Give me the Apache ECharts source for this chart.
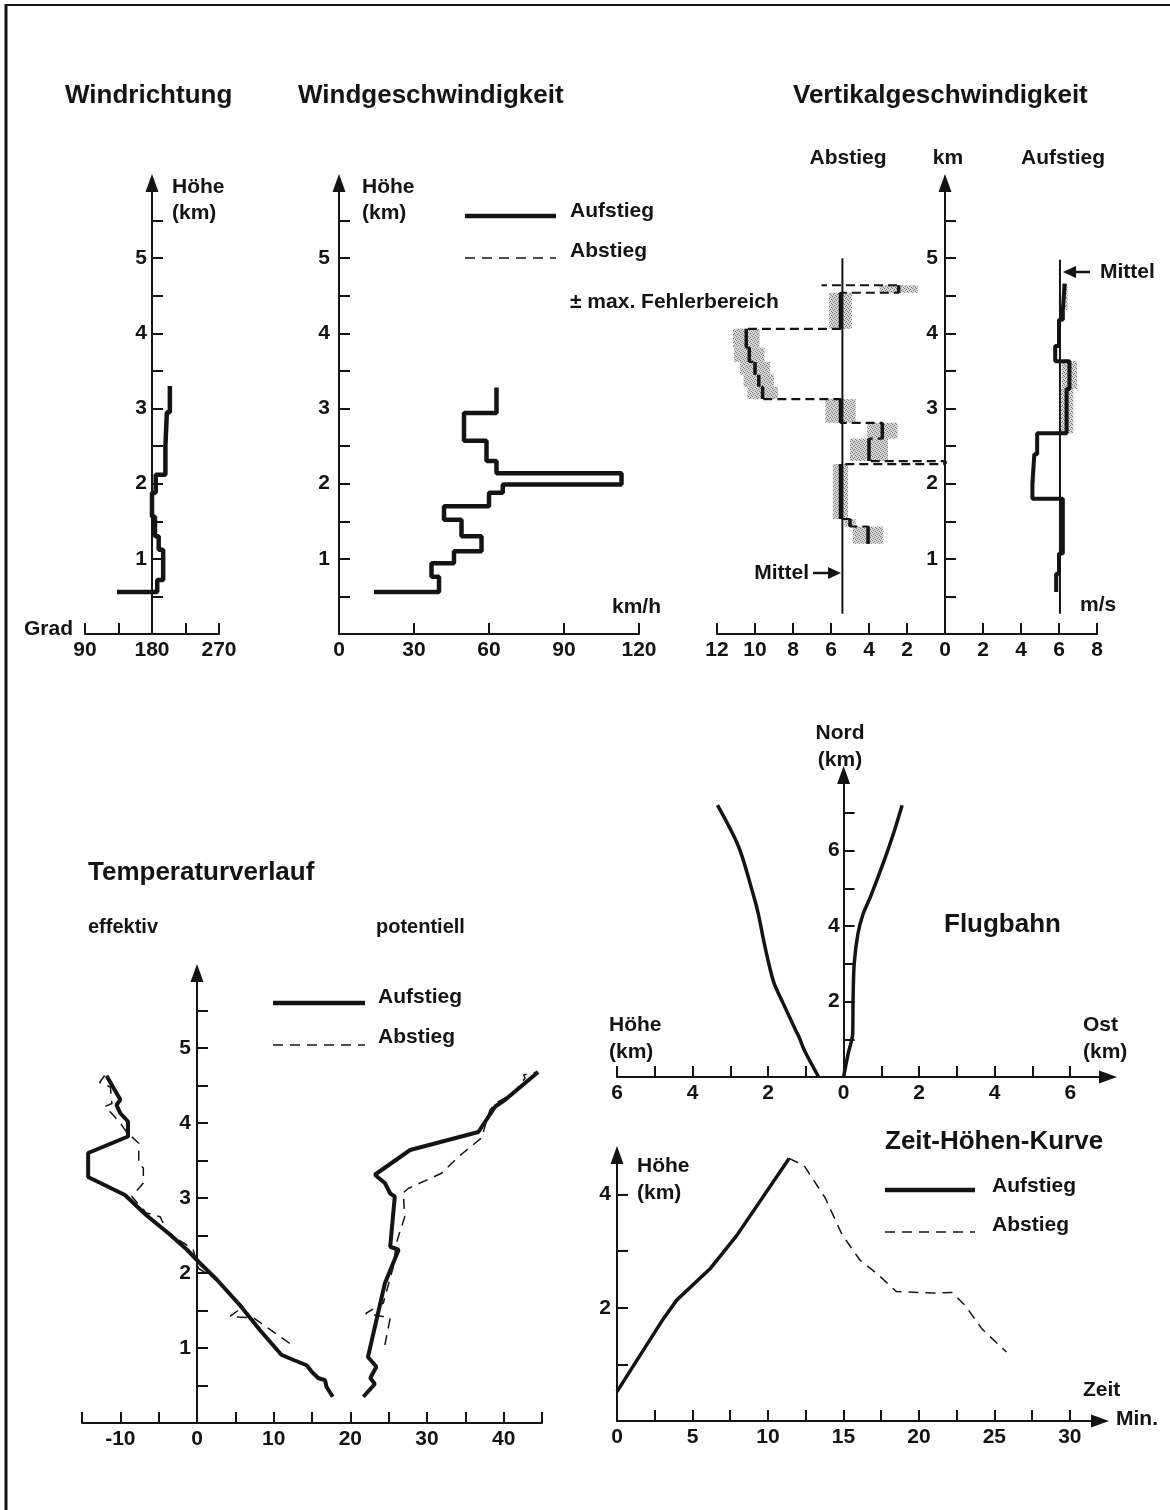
<!DOCTYPE html>
<html><head><meta charset="utf-8">
<script src="https://cdn.jsdelivr.net/npm/echarts@6/dist/echarts.min.js"></script>
<style>html,body{margin:0;padding:0;background:#fff}#c{width:1170px;height:1510px}</style>
</head><body><div id="c"></div>
<script>
// ---------------- DATA ----------------
// Windrichtung (Aufstieg): layer boundaries (km) and direction (Grad) per layer
const windDirBounds = [0.56, 0.56, 0.72, 1.12, 1.30, 1.56, 1.88, 2.12, 2.50, 2.95, 3.30];
const windDirDeg    = [133, 187, 195, 189, 184, 180, 185, 198, 200, 204];

// Windgeschwindigkeit (Aufstieg): layer boundaries (km) and speed (km/h)
const windSpeedBounds = [0.56, 0.56, 0.76, 0.94, 1.10, 1.30, 1.52, 1.70, 1.88, 1.99, 2.14, 2.30, 2.57, 2.94, 3.28];
const windSpeedKmh    = [14, 40, 37, 46, 57, 49, 42, 60, 65.5, 113, 63, 59, 50, 63];

// Vertikalgeschwindigkeit Aufstieg (m/s), boundaries (km), max. error
const vUpBounds = [0.56, 0.80, 1.07, 1.80, 2.00, 2.39, 2.67, 3.26, 3.63, 3.83, 4.18, 4.31, 4.66];
const vUpSpeed  = [5.85, 6.0, 6.2, 4.6, 4.7, 4.85, 6.4, 6.55, 5.8, 6.0, 6.2, 6.3];
const vUpErr    = [0.1, 0.1, 0.1, 0.05, 0.05, 0.05, 0.35, 0.4, 0.1, 0.1, 0.1, 0.15];

// Vertikalgeschwindigkeit Abstieg (m/s, drawn to the left), boundaries (km), max. error
const vDownBounds = [1.20, 1.43, 1.53, 2.26, 2.30, 2.60, 2.81, 3.125, 3.29, 3.45, 3.62, 3.81, 4.06, 4.54, 4.64, 4.64];
const vDownSpeed  = [4.05, 5.0, 5.5, 0, 4.0, 3.3, 5.5, 9.6, 9.8, 10.0, 10.3, 10.46, 5.5, 2.44, 6.5];
const vDownErr    = [0.8, 0.3, 0.4, 0, 1.0, 0.8, 0.8, 0.8, 0.8, 0.8, 0.8, 0.7, 0.6, 1.0, 0];

// Mittelwerte (m/s) and their height range (km)
const vMeanDown = 5.4;
const vMeanUp = 6.05;
const vMeanRange = [0.27, 5.0];

// Temperaturverlauf [°C, km]
const tempEffUp = [[17.7,0.35],[16.9,0.48],[16.7,0.57],[15.8,0.60],[15.0,0.68],[14.3,0.77],[12.6,0.84],[11.0,0.91],[8.2,1.24],[5.6,1.57],[2.6,1.91],[0.4,2.13],[-1.3,2.31],[-3.5,2.51],[-6.6,2.77],[-9.4,3.04],[-14.2,3.28],[-14.2,3.60],[-9.0,3.82],[-9.0,4.02],[-10.0,4.13],[-10.5,4.24],[-10.0,4.31],[-11.8,4.63]];
const tempEffDown = [[12.1,1.06],[7.4,1.40],[4.3,1.42],[6.0,1.55],[2.6,1.91],[0.2,2.06],[-0.5,2.31],[-1.3,2.37],[-2.4,2.44],[-4.0,2.57],[-4.8,2.75],[-6.6,2.80],[-8.5,3.02],[-7.0,3.20],[-7.0,3.40],[-7.6,3.46],[-7.6,3.73],[-9.2,3.88],[-10.0,4.00],[-10.7,4.08],[-12.0,4.22],[-11.1,4.26],[-11.3,4.48],[-12.7,4.54],[-12.0,4.64]];
const tempPotUp = [[21.7,0.35],[23.2,0.52],[22.6,0.60],[23.4,0.75],[22.3,0.88],[24.5,1.86],[26.3,2.31],[25.2,2.35],[25.8,3.02],[25.2,3.06],[24.5,3.20],[23.2,3.31],[27.8,3.64],[36.7,3.88],[38.9,4.22],[40.2,4.31],[44.5,4.68]];
const tempPotDown = [[24.5,1.04],[25.2,1.40],[22.0,1.46],[24.3,1.60],[25.6,2.08],[26.0,2.40],[27.1,2.75],[26.9,3.07],[27.6,3.13],[31.9,3.33],[34.1,3.55],[37.1,3.80],[38.2,4.17],[38.9,4.26],[41.3,4.40],[42.8,4.60],[42.6,4.64],[44.3,4.68]];

// Flugbahn: ground track [Ost km, Nord km] and side view [-Höhe km, Nord km]
const trackGround = [[0,0],[0.12,0.62],[0.24,1.15],[0.25,2.03],[0.28,3.0],[0.38,3.8],[0.52,4.33],[0.71,4.77],[1.08,5.75],[1.32,6.45],[1.55,7.2]];
const trackSide = [[-0.66,0],[-1.04,0.71],[-1.18,1.06],[-1.27,1.24],[-1.6,1.95],[-1.84,2.48],[-1.98,3.0],[-2.12,3.63],[-2.26,4.33],[-2.4,4.86],[-2.78,6.1],[-3.34,7.2]];

// Zeit-Höhen-Kurve [min, km]
const timeUp = [[0,0.52],[2.98,1.77],[3.97,2.14],[6.2,2.70],[7.94,3.28],[11.4,4.64]];
const timeDown = [[11.4,4.64],[12.4,4.51],[13.8,3.94],[14.9,3.30],[16.1,2.84],[17.2,2.61],[18.5,2.29],[21.0,2.26],[22.2,2.27],[23.1,2.03],[24.2,1.62],[25.8,1.22]];

// Tick / label values
const hTicks = [0.5,1,1.5,2,2.5,3,3.5,4,4.5,5,5.5];
const hLabels = [1,2,3,4,5];
const dirTicks = [90,135,180,225,270];
const dirLabels = [90,180,270];
const speedTicks = [30,60,90,120];
const speedLabels = [0,30,60,90,120];
const vTicks = [-12,-10,-8,-6,-4,-2,2,4,6,8];
const vLabels = [-12,-10,-8,-6,-4,-2,0,2,4,6,8];
const tempTicks = [-15,-10,-5,5,10,15,20,25,30,35,40,45];
const tempLabels = [-10,0,10,20,30,40];
const flugXTicks = [-6,-5,-4,-3,-2,-1,1,2,3,4,5,6];
const flugXLabels = [-6,-4,-2,0,2,4,6];
const flugYTicks = [1,2,3,4,5,6,7];
const flugYLabels = [2,4,6];
const zeitXTicks = [2.5,5,7.5,10,12.5,15,17.5,20,22.5,25,27.5,30];
const zeitXLabels = [0,5,10,15,20,25,30];
const zeitYTicks = [1,2,3,4];
const zeitYLabels = [2,4];
const legendNames = ['Aufstieg', 'Abstieg'];

// ---------------- HELPERS ----------------
const FONT = '"Liberation Sans", Arial, Helvetica, sans-serif';
const INK = '#141414';
function stepPath(bounds, vals, f) {
  const pts = [];
  for (let i = 0; i < vals.length; i++) {
    pts.push([f(vals[i]), bounds[i]], [f(vals[i]), bounds[i + 1]]);
  }
  return pts;
}
function stepVerticals(bounds, vals, f) {
  const pts = [];
  for (let i = 0; i < vals.length; i++) {
    if (bounds[i + 1] > bounds[i]) pts.push([f(vals[i]), bounds[i]], [f(vals[i]), bounds[i + 1]], [NaN, NaN]);
  }
  return pts;
}
function bands(bounds, vals, errs, f) {
  return vals.map((v, i) => [f(v), bounds[i], bounds[i + 1], errs[i]]);
}
const lbl = (margin) => ({ fontFamily: FONT, fontWeight: 'bold', fontSize: 21, color: INK, margin });
function xAx(gi, min, max, ticks, labels, fmt, arrow) {
  return {
    type: 'value', gridIndex: gi, min, max, splitLine: { show: false },
    axisLine: { show: true, onZero: false, symbol: arrow ? ['none', 'triangle'] : 'none', symbolSize: [13, 18], lineStyle: { color: INK, width: 2 } },
    axisTick: { show: true, inside: true, length: 11, customValues: ticks, lineStyle: { color: INK, width: 2 } },
    axisLabel: Object.assign(lbl(6), { customValues: labels, formatter: fmt })
  };
}
function yAx(gi, min, max, ticks, labels, margin, offset) {
  return {
    type: 'value', gridIndex: gi, min, max, position: 'left', offset: offset || 0, splitLine: { show: false },
    axisLine: { show: true, onZero: false, symbol: ['none', 'triangle'], symbolSize: [13, 18], lineStyle: { color: INK, width: 2 } },
    axisTick: { show: true, inside: true, length: 11, customValues: ticks, lineStyle: { color: INK, width: 2 } },
    axisLabel: Object.assign(lbl(margin), { customValues: labels })
  };
}
const absFmt = (v) => String(Math.abs(v));

// stipple pattern for error range
const pc = document.createElement('canvas');
pc.width = 4; pc.height = 4;
const g2 = pc.getContext('2d');
g2.fillStyle = 'rgba(160,160,160,0.45)';
g2.fillRect(0, 0, 4, 4);
g2.fillStyle = '#7a7a7a';
g2.fillRect(0, 0, 1, 1); g2.fillRect(2, 1, 1, 1); g2.fillRect(1, 2, 1, 1); g2.fillRect(3, 3, 1, 1);
const stipple = { image: pc, repeat: 'repeat' };

function bandSeries(name, data) {
  return {
    type: 'custom', name, xAxisIndex: 2, yAxisIndex: 2, z: 1,
    data, encode: { x: 0, y: [1, 2] },
    renderItem: function (params, api) {
      const v = api.value(0), lo = api.value(1), hi = api.value(2), e = api.value(3);
      if (!(e > 0)) return null;
      const a = api.coord([v - e, hi]);
      const b = api.coord([v + e, lo]);
      return { type: 'rect', shape: { x: a[0], y: a[1], width: b[0] - a[0], height: b[1] - a[1] }, style: { fill: stipple } };
    }
  };
}
function lineS(name, xi, data, width, dash, extra) {
  return Object.assign({
    type: 'line', name, xAxisIndex: xi, yAxisIndex: xi, data, symbol: 'none', z: 3,
    lineStyle: { color: INK, width, type: dash || 'solid' }, itemStyle: { color: INK },
    connectNulls: false, silent: true
  }, extra || {});
}

// ---------------- TEXT / KEYS ----------------
function T(text, x, y, size, align, weight) {
  return { type: 'text', x, y, silent: true, style: { text, fill: INK, font: (weight || 'bold') + ' ' + size + 'px ' + FONT, align: align || 'left', verticalAlign: 'middle' } };
}
function arrowH(x1, x2, y) { // arrow pointing to x2
  const dir = x2 > x1 ? 1 : -1;
  return [
    { type: 'line', silent: true, shape: { x1, y1: y, x2: x2 - dir * 10, y2: y }, style: { stroke: INK, lineWidth: 2.5 } },
    { type: 'polygon', silent: true, shape: { points: [[x2, y], [x2 - dir * 13, y - 6], [x2 - dir * 13, y + 6]] }, style: { fill: INK } }
  ];
}
function legendKey(x1, x2, textX, yUp, yUpText, yDown, yDownText) {
  return [
    { type: 'line', silent: true, shape: { x1, y1: yUp, x2, y2: yUp }, style: { stroke: INK, lineWidth: 4.5 } },
    T(legendNames[0], textX, yUpText, 21),
    { type: 'line', silent: true, shape: { x1, y1: yDown, x2, y2: yDown }, style: { stroke: INK, lineWidth: 1.5, lineDash: [10, 7] } },
    T(legendNames[1], textX, yDownText, 21)
  ];
}

const graphics = [
  { type: 'line', silent: true, shape: { x1: 6, y1: 4, x2: 6, y2: 1510 }, style: { stroke: INK, lineWidth: 3 } },
  { type: 'line', silent: true, shape: { x1: 5, y1: 5, x2: 1170, y2: 5 }, style: { stroke: INK, lineWidth: 2 } },
  T('Windrichtung', 65, 96, 26),
  T('Windgeschwindigkeit', 298, 96, 26),
  T('Vertikalgeschwindigkeit', 793, 96, 26),
  T('Höhe', 172, 187, 21), T('(km)', 172, 213, 21),
  T('Höhe', 362, 187, 21), T('(km)', 362, 213, 21),
  T('Grad', 24, 629, 21),
  T('km/h', 612, 607, 21),
  ...legendKey(465, 556, 570, 216, 211, 258, 251),
  T('± max. Fehlerbereich', 570, 302, 21),
  T('Abstieg', 848, 158, 21, 'center'), T('km', 948, 158, 21, 'center'), T('Aufstieg', 1063, 158, 21, 'center'),
  T('Mittel', 1100, 272, 21), ...arrowH(1090, 1063, 272),
  T('Mittel', 809, 573, 21, 'right'), ...arrowH(813, 841, 573),
  T('m/s', 1080, 605, 21),
  T('Temperaturverlauf', 88, 873, 26),
  T('effektiv', 88, 927, 20), T('potentiell', 376, 927, 20),
  ...legendKey(273, 365, 378, 1003, 997, 1045, 1037),
  T('Nord', 840, 733, 21, 'center'), T('(km)', 840, 760, 21, 'center'),
  T('Flugbahn', 944, 925, 26),
  T('Höhe', 609, 1025, 21), T('(km)', 609, 1052, 21),
  T('Ost', 1083, 1025, 21), T('(km)', 1083, 1052, 21),
  T('Zeit-Höhen-Kurve', 885, 1142, 26),
  ...legendKey(885, 975, 992, 1190, 1186, 1232, 1225),
  T('Höhe', 637, 1166, 21), T('(km)', 637, 1193, 21),
  T('Zeit', 1083, 1390, 21), T('Min.', 1116, 1419, 21)
];

// ---------------- OPTION ----------------
const option = {
  animation: false,
  backgroundColor: '#ffffff',
  grid: [
    { left: 85, top: 183, width: 134, height: 451, outerBoundsMode: 'none' },
    { left: 339, top: 183, width: 300, height: 451, outerBoundsMode: 'none' },
    { left: 717, top: 183, width: 380, height: 451, outerBoundsMode: 'none' },
    { left: 82, top: 973, width: 460, height: 450, outerBoundsMode: 'none' },
    { left: 617, top: 775, width: 491, height: 302, outerBoundsMode: 'none' },
    { left: 617, top: 1155, width: 483, height: 266, outerBoundsMode: 'none' }
  ],
  xAxis: [
    xAx(0, 90, 270, dirTicks, dirLabels, null, false),
    xAx(1, 0, 120, speedTicks, speedLabels, null, false),
    xAx(2, -12, 8, vTicks, vLabels, absFmt, false),
    xAx(3, -15, 45, tempTicks, tempLabels, null, false),
    xAx(4, -6, 7, flugXTicks, flugXLabels, absFmt, true),
    xAx(5, 0, 32, zeitXTicks, zeitXLabels, null, true)
  ],
  yAxis: [
    yAx(0, 0, 6, hTicks, hLabels, 5, -67),
    yAx(1, 0, 6, hTicks, hLabels, 9, 0),
    yAx(2, 0, 6, hTicks, hLabels, 7, -228),
    yAx(3, 0, 6, hTicks, hLabels, 6, -115),
    yAx(4, 0, 8, flugYTicks, flugYLabels, 4, -226.6),
    yAx(5, 0, 4.7, zeitYTicks, zeitYLabels, 6, 0)
  ],
  graphic: graphics,
  series: [
    lineS('Aufstieg', 0, stepPath(windDirBounds, windDirDeg, d => d), 4.5),
    lineS('Aufstieg', 1, stepPath(windSpeedBounds, windSpeedKmh, v => v), 4.5),
    bandSeries('Fehlerbereich Abstieg', bands(vDownBounds, vDownSpeed, vDownErr, v => -v)),
    bandSeries('Fehlerbereich Aufstieg', bands(vUpBounds, vUpSpeed, vUpErr, v => v)),
    lineS('Mittel', 2, [[-vMeanDown, vMeanRange[0]], [-vMeanDown, vMeanRange[1]]], 2),
    lineS('Mittel', 2, [[vMeanUp, vMeanRange[0]], [vMeanUp, vMeanRange[1] - 0.02]], 2),
    lineS('Abstieg', 2, stepPath(vDownBounds, vDownSpeed, v => -v), 2.2, [9, 5]),
    lineS('Abstieg Stufen', 2, stepVerticals(vDownBounds, vDownSpeed, v => -v), 3.5),
    lineS('Aufstieg', 2, stepPath(vUpBounds, vUpSpeed, v => v), 4),
    lineS('Aufstieg', 3, tempEffUp, 4),
    lineS('Abstieg', 3, tempEffDown, 1.5, [10, 7]),
    lineS('Aufstieg', 3, tempPotUp, 4),
    lineS('Abstieg', 3, tempPotDown, 1.5, [10, 7]),
    lineS('Flugbahn Ost', 4, trackGround, 3.5, null, { smooth: 0.3 }),
    lineS('Flugbahn Höhe', 4, trackSide, 3.5, null, { smooth: 0.3 }),
    lineS('Aufstieg', 5, timeUp, 3.5),
    lineS('Abstieg', 5, timeDown, 1.5, [10, 7])
  ]
};

const chart = echarts.init(document.getElementById('c'), null, { renderer: 'canvas' });
chart.setOption(option);
</script>
</body></html>
